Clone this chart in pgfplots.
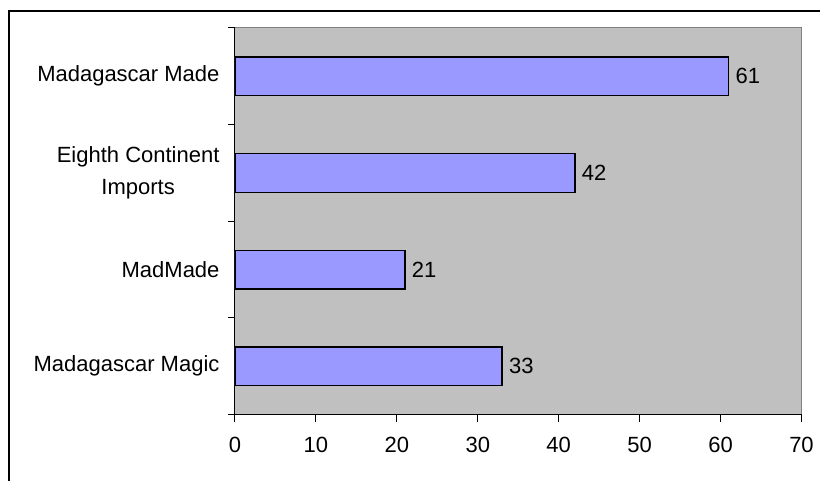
\documentclass[border=0pt]{standalone}
\usepackage{fontspec}
\setmainfont{Liberation Sans}
\usepackage{pgfplots}
\pgfplotsset{compat=1.18}
\definecolor{plotbg}{HTML}{C0C0C0}
\definecolor{barfill}{HTML}{9999FF}
\definecolor{boxline}{HTML}{808080}
\newcommand\lbl{\fontsize{22}{29}\selectfont}

\begin{document}
\begin{tikzpicture}
\useasboundingbox (0pt,0pt) rectangle (820pt,-481pt);
% chart frame (open at the right and bottom)
\draw[line width=2pt] (9pt,-482pt) -- (9pt,-11pt) -- (822pt,-11pt);
\begin{axis}[
  at={(235pt,-414.5pt)}, anchor=south west,
  scale only axis, width=566.5pt, height=386.5pt,
  xbar, bar width=0.4,
  xmin=0, xmax=70, ymin=-0.5, ymax=3.5,
  axis x line=bottom, axis y line=left,
  axis line style={-, line width=1pt, black},
  axis background/.style={fill=plotbg, draw=boxline, line width=1pt},
  xtick={0,10,...,70},
  ytick={-0.5,0.5,1.5,2.5,3.5}, yticklabels={},
  extra y ticks={0,1,2,3},
  extra y tick labels={Madagascar Magic, MadMade, {Eighth Continent\\[3pt]Imports}, Madagascar Made},
  extra y tick style={major tick length=0pt,
    yticklabel style={align=center, xshift=-12pt}},
  tick align=outside, major tick length=7pt,
  tick style={black, line width=1pt},
  ticklabel style={font=\lbl, text=black},
  xticklabel style={yshift=-12pt},
  /pgf/number format/assume math mode=true,
  nodes near coords,
  nodes near coords style={font=\lbl, text=black, xshift=3pt},
]
\addplot[fill=barfill, draw=black, line width=1.3pt]
  coordinates {(33,0) (21,1) (42,2) (61,3)};
\end{axis}
\end{tikzpicture}
\end{document}
